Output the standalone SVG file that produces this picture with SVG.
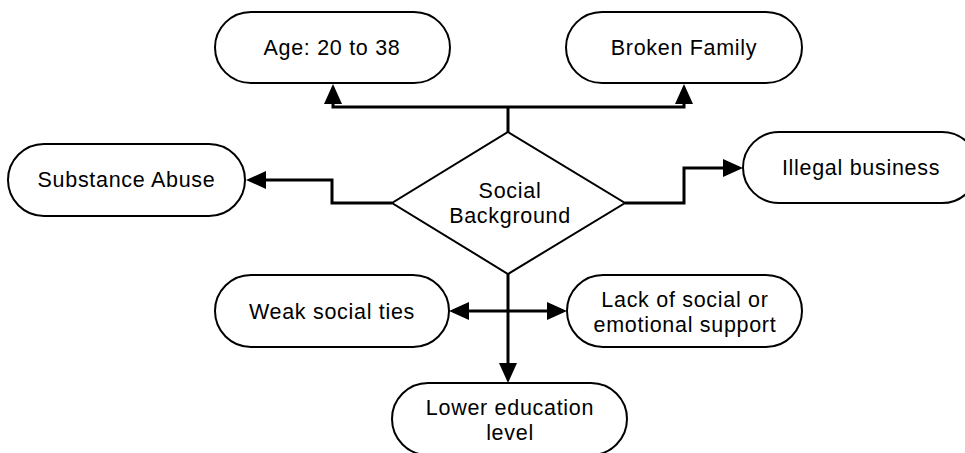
<svg xmlns="http://www.w3.org/2000/svg" width="965" height="453" viewBox="0 0 965 453">
  <style>
    .box { fill: #ffffff; stroke: #000000; stroke-width: 2; }
    .lbl { font-family: "Liberation Sans", Arial, sans-serif; font-size: 21.5px; letter-spacing: 0.7px; fill: #000000; text-anchor: middle; }
    .conn { fill: none; stroke: #000000; stroke-width: 3; stroke-linejoin: miter; }
  </style>
  <defs>
    <marker id="ah" viewBox="0 0 20 20" refX="0" refY="10" markerWidth="20" markerHeight="20" markerUnits="userSpaceOnUse" orient="auto-start-reverse">
      <path d="M0,1 L20,10 L0,19 Z" fill="#000000"/>
    </marker>
  </defs>
  <rect width="965" height="453" fill="#ffffff"/>

  <g id="connectors">
    <path class="conn" d="M508,107 V132"/>
    <path class="conn" d="M333,104 V107 H684 V104" marker-start="url(#ah)" marker-end="url(#ah)"/>
    <path class="conn" d="M392,203 H332 V180 H266" marker-end="url(#ah)"/>
    <path class="conn" d="M625,203 H684 V168 H723" marker-end="url(#ah)"/>
    <path class="conn" d="M508,274 V363" marker-end="url(#ah)"/>
    <path class="conn" d="M469,311 H547" marker-start="url(#ah)" marker-end="url(#ah)"/>
  </g>

  <g id="node-age">
    <rect class="box" x="215" y="12" width="235" height="71" rx="36" ry="35.5"/>
    <text class="lbl" x="332" y="55">Age: 20 to 38</text>
  </g>
  <g id="node-broken">
    <rect class="box" x="566" y="12" width="236" height="71" rx="36" ry="35.5"/>
    <text class="lbl" x="684" y="55">Broken Family</text>
  </g>
  <g id="node-substance">
    <rect class="box" x="8" y="144" width="237" height="72" rx="36" ry="36"/>
    <text class="lbl" x="126.5" y="187">Substance Abuse</text>
  </g>
  <g id="node-social">
    <polygon class="box" points="508,132 625,203 508,274 392,203"/>
    <text class="lbl" x="510" y="198">Social</text>
    <text class="lbl" x="510" y="223">Background</text>
  </g>
  <g id="node-illegal">
    <rect class="box" x="743" y="132" width="235" height="71" rx="36" ry="35.5"/>
    <text class="lbl" x="861" y="175">Illegal business</text>
  </g>
  <g id="node-weak">
    <rect class="box" x="215" y="275" width="234" height="72" rx="36" ry="36"/>
    <text class="lbl" x="332" y="319">Weak social ties</text>
  </g>
  <g id="node-lack">
    <rect class="box" x="567" y="275" width="235" height="72" rx="36" ry="36"/>
    <text class="lbl" x="685" y="307">Lack of social or</text>
    <text class="lbl" x="685" y="332">emotional support</text>
  </g>
  <g id="node-lower">
    <rect class="box" x="392" y="383" width="235" height="72" rx="36" ry="36"/>
    <text class="lbl" x="510" y="415">Lower education</text>
    <text class="lbl" x="510" y="440">level</text>
  </g>
</svg>
